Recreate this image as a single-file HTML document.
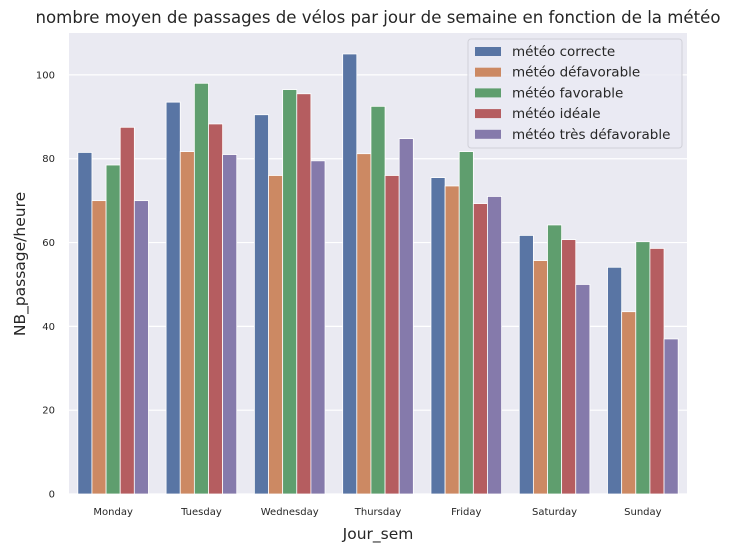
<!DOCTYPE html>
<html><head><meta charset="utf-8">
<style>body{margin:0;background:#fff;}svg{display:block;font-family:"DejaVu Sans","Liberation Sans",sans-serif;}</style>
</head><body>
<svg id="chart" width="730" height="551"></svg>
<script>
const categories=["Monday","Tuesday","Wednesday","Thursday","Friday","Saturday","Sunday"];
const seriesNames=["météo correcte","météo défavorable","météo favorable","météo idéale","météo très défavorable"];
const correcte=[81.5,93.5,90.5,105,75.5,61.7,54.1];
const defavorable=[70,81.7,76,81.2,73.5,55.7,43.5];
const favorable=[78.5,98,96.5,92.5,81.7,64.2,60.2];
const ideale=[87.5,88.3,95.5,76,69.3,60.7,58.6];
const tresDefavorable=[70,81,79.5,84.8,71,50,37];
const yTicks=[0,20,40,60,80,100];
const series=[correcte,defavorable,favorable,ideale,tresDefavorable];
const colors=["#5975a4","#cc8963","#5f9e6e","#b55d60","#857aab"];
const NS="http://www.w3.org/2000/svg";
const svg=document.getElementById('chart');
const L=69,R=687,T=33,B=494,yMax=110;
function y(v){return B-v/yMax*(B-T);}
const cw=(R-L)/categories.length,bw=cw*0.8/series.length;
function x(i,s){return L+cw*i+cw*0.1+bw*s;}
function mk(tag,a,parent){const e=document.createElementNS(NS,tag);for(const k in a)e.setAttribute(k,a[k]);(parent||svg).appendChild(e);return e;}
const bg=mk('rect',{x:L,y:T,width:R-L,height:B-T,fill:'#eaeaf2'});


yTicks.forEach(t=>{
 const g=mk('line',{x1:L,x2:R,y1:y(t),y2:y(t),stroke:'#fff','stroke-width':1.2});
 
 
 const tx=mk('text',{x:L-14,y:y(t)+3.5,'font-size':10,'text-anchor':'end',fill:'#262626'});
 tx.textContent=t;
 
 
});
series.forEach((arr,s)=>{arr.forEach((v,i)=>{
 const r=mk('rect',{x:x(i,s),y:y(v),width:bw,height:B-y(v),fill:colors[s],stroke:'#fff','stroke-width':0.8});
 
 
});});
categories.forEach((c,i)=>{
 const tx=mk('text',{x:L+cw*(i+0.5),y:B+21,'font-size':10,'text-anchor':'middle',fill:'#262626'});
 tx.textContent=c;
 
 
});
const title=mk('text',{x:378,y:23,'font-size':16.6,'text-anchor':'middle',fill:'#262626'});
title.textContent="nombre moyen de passages de vélos par jour de semaine en fonction de la météo";


const xt=mk('text',{x:378,y:539,'font-size':15.5,'text-anchor':'middle',fill:'#262626'});
xt.textContent="Jour_sem";


const yt=mk('text',{x:25,y:264,'font-size':15.5,'text-anchor':'middle',fill:'#262626',transform:'rotate(-90 25 264)'});
yt.textContent="NB_passage/heure";


const lg=mk('rect',{x:468,y:39,width:214,height:109,rx:3,fill:'#eaeaf2','fill-opacity':0.8,stroke:'#d0d0d8'});


seriesNames.forEach((n,s)=>{
 const yy=51+s*20.7;
 const p=mk('rect',{x:475,y:yy-4,width:26,height:9,fill:colors[s]});
 
 
 const tx=mk('text',{x:512,y:yy+5,'font-size':13.5,fill:'#262626'});
 tx.textContent=n;
 
 
});
</script>
</body></html>
